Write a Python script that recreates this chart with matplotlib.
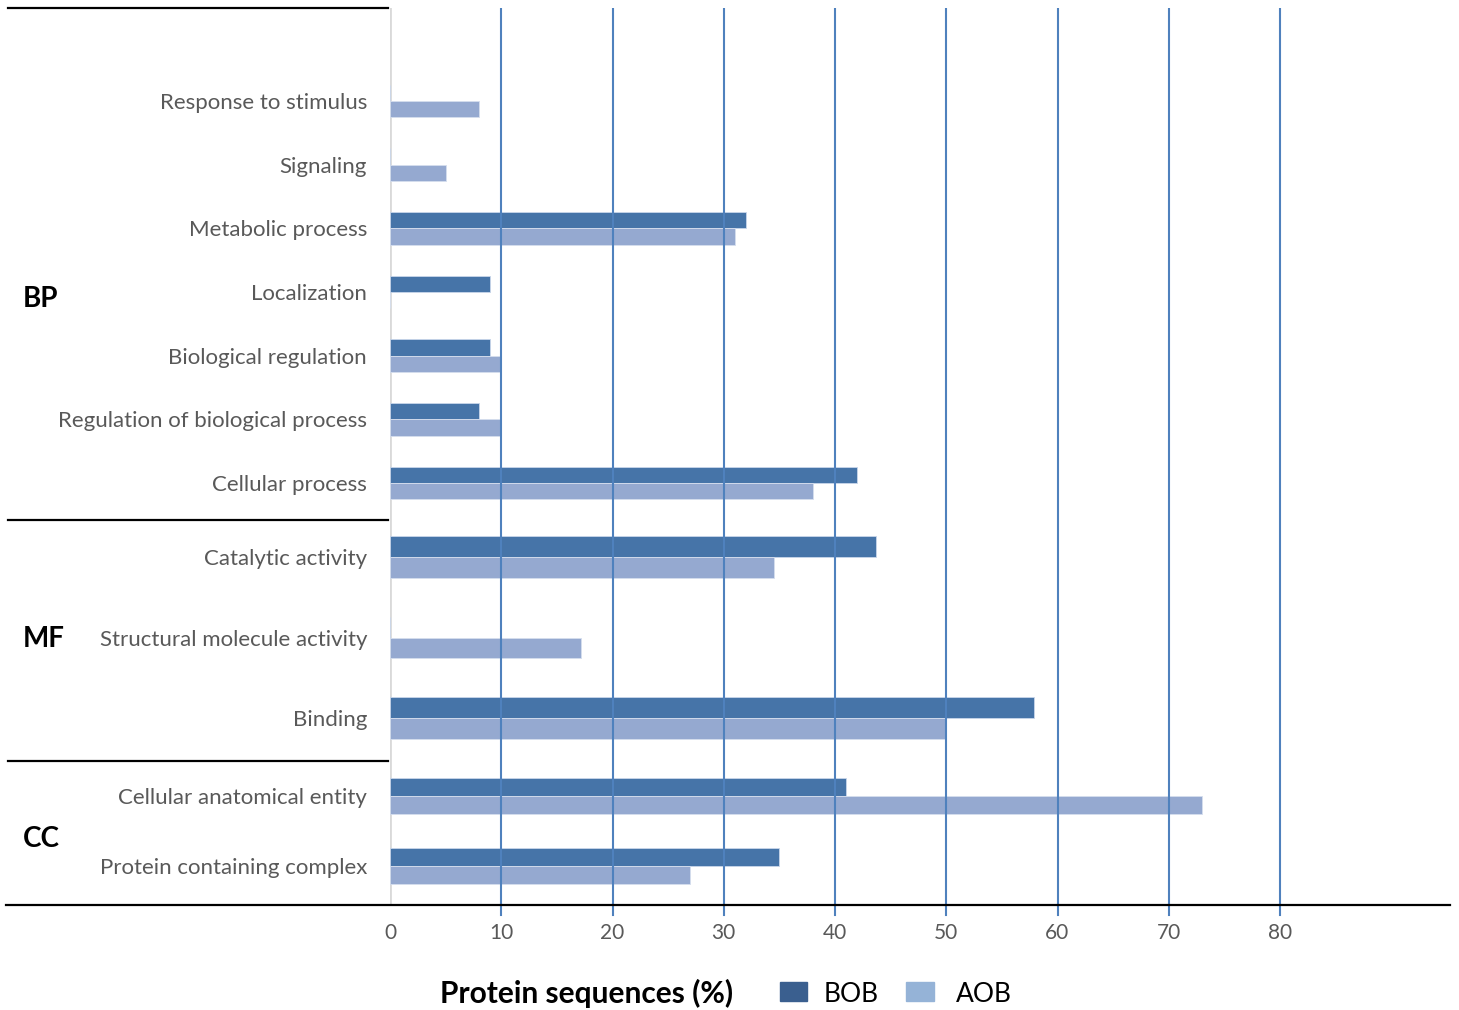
import matplotlib
matplotlib.use("Agg")
import matplotlib.pyplot as plt
from matplotlib.lines import Line2D
from matplotlib.patches import Rectangle

plt.rcParams['font.family'] = ['Lato', 'DejaVu Sans']

# Gene Ontology categories, percentages of protein sequences
bp_terms = ["Response to stimulus", "Signaling", "Metabolic process", "Localization",
            "Biological regulation", "Regulation of biological process", "Cellular process"]
bp_bob = [0, 0, 32, 9, 9, 8, 42]
bp_aob = [8, 5, 31, 0, 10, 10, 38]

mf_terms = ["Catalytic activity", "Structural molecule activity", "Binding"]
mf_bob = [43.7, 0, 57.9]
mf_aob = [34.5, 17.2, 50]

cc_terms = ["Cellular anatomical entity", "Protein containing complex"]
cc_bob = [41, 35]
cc_aob = [73, 27]

x_ticks = [0, 10, 20, 30, 40, 50, 60, 70, 80]

BOB_COLOR = "#4674a8"
AOB_COLOR = "#95a9d0"
GRID_COLOR = "#4f81bd"
LABEL_COLOR = "#595959"

W, H = 1459, 1010
fig = plt.figure(figsize=(W / 100, H / 100), dpi=100)


def fx(px):
    return px / W


def fy(py):
    return 1 - py / H


X0, X1 = 390, 1450
XMAX = (X1 - X0) / 11.125

sections = [
    # terms, bob, aob, top px, bottom px, first row px, row spacing px, group label, label y px
    (bp_terms, bp_bob, bp_aob, 8, 520, 101, 63.67, "BP", 299),
    (mf_terms, mf_bob, mf_aob, 520, 761, 557, 80.5, "MF", 639),
    (cc_terms, cc_bob, cc_aob, 761, 905, 796, 70.0, "CC", 839),
]

axes = []
for terms, bob, aob, top, bot, first, step, group, gy in sections:
    ax = fig.add_axes([fx(X0), fy(bot), fx(X1 - X0), (bot - top) / H])
    n = len(terms)
    pos = list(range(n))
    h = 0.255
    ax.barh([p - h / 2 for p in pos], bob, height=h, color=BOB_COLOR,
            edgecolor="#c9d6ea", linewidth=0.6, zorder=2)
    ax.barh([p + h / 2 for p in pos], aob, height=h, color=AOB_COLOR,
            edgecolor="#d5deee", linewidth=0.6, zorder=2)
    ax.set_xlim(0, XMAX)
    ax.set_ylim((n - 1) + (bot - first - (n - 1) * step) / step, -(first - top) / step)
    ax.set_yticks(pos)
    ax.set_yticklabels(terms, fontsize=16, color=LABEL_COLOR)
    ax.tick_params(axis="y", length=0, pad=16.5)
    for s in ax.spines.values():
        s.set_visible(False)
    # vertical gridlines drawn over the bars
    for t in x_ticks[1:]:
        ax.axvline(t, color=GRID_COLOR, linewidth=1.5, zorder=3)
    ax.axvline(0, color="#d9d9d9", linewidth=2, zorder=1)
    ax.set_xticks([])
    fig.text(fx(23), fy(gy), group, fontsize=20, fontweight="bold",
             color="black", ha="left", va="center")
    axes.append(ax)

# x axis labels and tick marks below the bottom panel
ax_b = axes[-1]
ax_b.set_xticks(x_ticks)
ax_b.set_xticklabels([str(t) for t in x_ticks], fontsize=15, color=LABEL_COLOR)
ax_b.tick_params(axis="x", length=0, pad=13)
for t in x_ticks[1:]:
    ax_b.plot([t, t], [0, -10 / 144], transform=ax_b.get_xaxis_transform(),
              color=GRID_COLOR, linewidth=1.5, clip_on=False, zorder=3)

# separating rules
for y, x_end in [(8, 388), (520, 388), (761, 388)]:
    fig.add_artist(Line2D([fx(8), fx(x_end)], [fy(y), fy(y)], color="black", linewidth=1.6))
fig.add_artist(Line2D([fx(6), fx(1450)], [fy(905), fy(905)], color="black", linewidth=1.6))

# axis title and legend
fig.text(fx(587), fy(993), "Protein sequences (%)", fontsize=21.5, fontweight="bold",
         color="black", ha="center", va="center")
fig.add_artist(Rectangle((fx(780), fy(1001)), fx(27), 19 / H, color="#3a5f8f",
                         transform=fig.transFigure))
fig.text(fx(824), fy(994), "BOB", fontsize=19, color="black", ha="left", va="center")
fig.add_artist(Rectangle((fx(906), fy(1001)), fx(28), 19 / H, color="#95b3d7",
                         transform=fig.transFigure))
fig.text(fx(956), fy(994), "AOB", fontsize=19, color="black", ha="left", va="center")

fig.savefig("out.png", dpi=100)
